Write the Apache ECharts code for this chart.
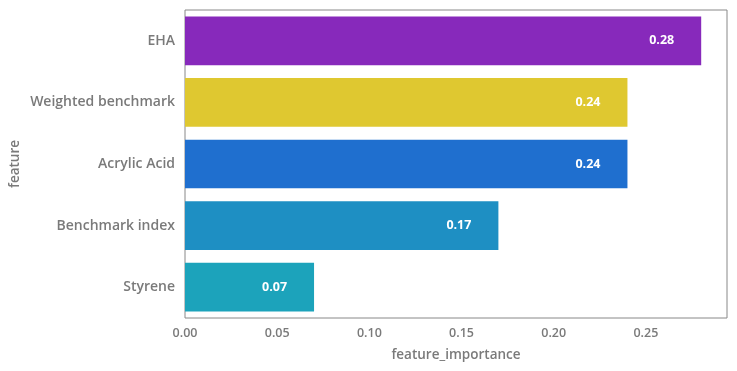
<!DOCTYPE html>
<html><head><meta charset="utf-8">
<script src="https://cdn.jsdelivr.net/npm/echarts@6/dist/echarts.min.js"></script>
<style>html,body{margin:0;padding:0;background:#fff}#c{width:737px;height:371px}</style>
</head><body><div id="c"></div>
<script>
const categories = ["EHA", "Weighted benchmark", "Acrylic Acid", "Benchmark index", "Styrene"];
const values = [0.28, 0.24, 0.24, 0.17, 0.07];
const colors = ["#8729bb", "#dfc830", "#1f6fcf", "#1e8fc3", "#1ca3bb"];
const xTicks = [0, 0.05, 0.10, 0.15, 0.20, 0.25];

const font = "'Open Sans', Lato, sans-serif";
const gray = "#7a7a7a";
const chart = echarts.init(document.getElementById('c'));
chart.setOption({
  animation: false,
  grid: {left: 185, right: 10, top: 10, bottom: 53, show: true, borderColor: '#888', borderWidth: 1,
    containLabel: false, outerBoundsMode: 'none'},
  xAxis: {
    type: 'value', min: 0, max: 0.294, interval: 0.05,
    name: 'feature_importance', nameLocation: 'middle', nameGap: 30,
    nameTextStyle: {color: gray, fontSize: 13.5, fontWeight: 600, fontFamily: font},
    axisLine: {show: false}, axisTick: {show: false}, splitLine: {show: false},
    axisLabel: {color: gray, fontSize: 12.5, fontWeight: 600, fontFamily: font, margin: 9,
      formatter: v => xTicks.some(t => Math.abs(t - v) < 1e-9) ? v.toFixed(2) : ''}
  },
  yAxis: {
    type: 'category', data: categories, inverse: true,
    name: 'feature', nameLocation: 'middle', nameGap: 163, nameRotate: 90, nameMoveOverlap: false,
    nameTextStyle: {color: gray, fontSize: 13.5, fontWeight: 600, fontFamily: font},
    axisLine: {show: false}, axisTick: {show: false},
    axisLabel: {color: gray, fontSize: 14, fontWeight: 600, fontFamily: font, margin: 10}
  },
  series: [{
    type: 'bar',
    data: values.map((v, i) => ({value: v, itemStyle: {color: colors[i]}})),
    barCategoryGap: '21%',
    label: {show: true, position: 'insideRight', distance: 27, color: '#fff',
      fontSize: 12.5, fontWeight: 'bold', fontFamily: font,
      formatter: p => p.value.toFixed(2)}
  }]
});
</script></body></html>
